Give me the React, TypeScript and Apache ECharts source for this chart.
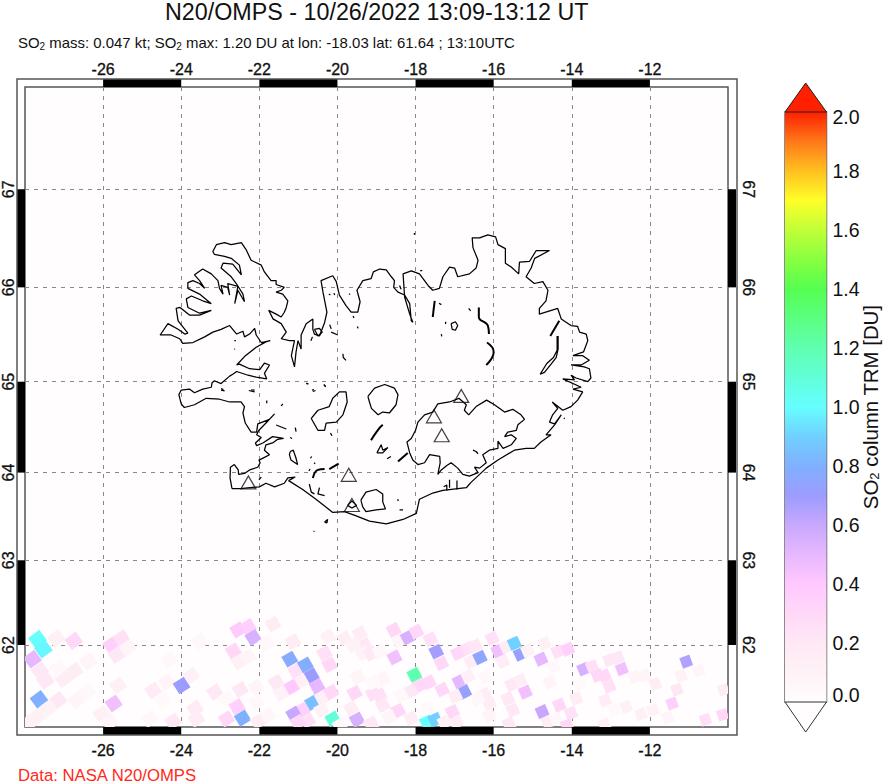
import React, { useEffect, useRef } from "react";
import * as echarts from "echarts";

const FONT = "'Liberation Sans', Arial, sans-serif";
const titleText = "N20/OMPS - 10/26/2022 13:09-13:12 UT";
const subtitleText = "SO{s|2} mass: 0.047 kt; SO{s|2} max: 1.20 DU at lon: -18.03 lat: 61.64 ; 13:10UTC";
const footerText = "Data: NASA N20/OMPS";
const colorbarName = "SO{s|2} column TRM [DU]";

const lonTicks = [-26, -24, -22, -20, -18, -16, -14, -12];
const latTicks = [62, 63, 64, 65, 66, 67];
const lonBands = [[-26, -24], [-22, -20], [-18, -16], [-14, -12]];
const latBands = [[66, 67], [64, 65], [62, 63]];

const colorStops: [number, string][] = [
  [0, "#fffdfd"], [0.1, "#fff2f6"], [0.2, "#ffe8f6"], [0.3, "#ffd8f8"], [0.4, "#ffc8ff"],
  [0.5, "#e6b8ff"], [0.6, "#c8a8ff"], [0.7, "#9c9cff"], [0.8, "#80b0ff"], [0.9, "#70d0ff"],
  [1.0, "#66ffff"], [1.1, "#60ffd8"], [1.2, "#60ffb0"], [1.4, "#55ff50"], [1.5, "#88ff40"],
  [1.6, "#c0ff38"], [1.7, "#ffff28"], [1.8, "#ffc020"], [1.9, "#ff7818"], [2.0, "#ff2000"],
];

// [lon, lat, SO2 DU]
const so2Cells = [
  [-27.68,62.07,1.0],[-27.53,61.95,0.98],[-27.81,61.83,.5],[-27.20,62.08,.12],[-26.75,62.05,.3],[-27.62,61.69,.2],[-27.48,61.57,.2],[-27.02,61.59,.15],[-26.73,61.69,.15],[-27.15,61.72,.05],[-26.38,61.80,.08],[-27.64,61.34,.8],[-27.15,61.33,.2],[-26.68,61.33,.08],[-26.41,61.43,.05],[-27.41,61.23,.1],[-27.71,61.12,.12],[-27.88,61.06,.1],
  [-25.79,62.00,.35],[-25.53,62.08,.25],[-25.66,61.88,.2],[-25.36,61.97,.08],[-25.62,61.51,.12],[-25.73,61.29,.45],[-26.04,61.16,.12],[-25.83,61.06,.08],[-24.72,61.45,.17],[-24.38,61.55,.07],[-24.30,61.82,.05],[-23.53,62.04,.05],[-23.74,61.63,.12],[-23.99,61.51,.7],[-23.14,61.43,.2],[-23.65,61.23,.17],[-23.61,61.10,.15],[-24.21,61.07,.2],[-24.81,61.10,.06],[-24.47,61.33,.04],[-22.84,61.35,.04],[-22.49,61.46,.2],[-22.08,61.49,.07],
  [-22.55,62.18,.38],[-22.29,62.22,.35],[-22.16,62.09,.55],[-22.67,61.93,.3],[-22.52,61.80,.12],[-22.29,61.86,.07],[-21.65,62.25,.15],[-21.14,62.04,.15],[-21.82,62.02,.05],[-22.84,61.10,.3],[-22.57,61.25,.35],[-22.43,61.11,.8],[-22.03,61.07,.15],[-21.78,61.14,.06],[-22.08,61.31,.05],
  [-21.22,61.83,.78],[-21.07,61.69,.25],[-20.82,61.76,.78],[-20.67,61.63,.7],[-20.52,61.50,.5],[-20.93,61.56,.12],[-21.18,61.49,.4],[-21.57,61.55,.2],[-21.44,61.41,.1],[-20.64,61.30,.85],[-20.90,61.21,.35],[-21.12,61.16,.6],[-20.76,61.08,.25],[-21.01,61.06,.3],[-20.39,61.36,.12],[-20.16,61.43,.3],[-20.12,61.10,1.1],[-20.41,61.21,.1],[-20.24,62.10,.1],[-20.33,61.90,.25],[-20.20,61.76,.3],
  [-19.82,62.08,.15],[-19.43,62.14,.15],[-19.30,62.00,.2],[-19.60,62.00,.1],[-19.35,61.90,.1],[-19.48,61.61,.08],[-19.56,61.42,.3],[-19.09,61.41,.25],[-19.65,61.23,.15],[-19.50,61.09,.55],[-19.13,61.04,.12],[-19.94,61.02,.05],
  [-19.14,61.90,.2],[-18.92,61.92,.05],[-18.56,62.18,.3],[-18.43,62.05,.08],[-18.20,62.09,.55],[-17.98,62.16,.3],[-17.62,62.07,.25],[-17.47,61.92,.68],[-17.34,61.78,.3],[-18.54,61.85,.45],[-16.92,61.90,.3],[-16.66,61.96,.25],[-16.47,61.99,.2],[-16.58,61.80,.15],[-16.35,61.85,.75],[-16.04,62.08,.25],[-15.89,61.93,.45],[-15.68,61.98,.15],[-15.77,61.80,.15],[-15.47,62.02,.9],[-15.32,61.89,.72],[-15.13,61.93,.1],[-14.70,62.02,.12],[-14.79,61.83,.5],[-14.36,61.92,.25],[-14.10,61.95,.35],[-14.46,61.74,.05],
  [-18.03,61.64,1.2],[-17.90,61.51,.3],[-17.66,61.55,.3],[-18.13,61.44,.2],[-17.32,61.46,.3],[-16.88,61.56,.5],[-16.66,61.62,.12],[-16.75,61.43,.72],[-16.98,61.38,.15],[-15.54,61.52,.2],[-15.32,61.57,.15],[-15.19,61.43,.45],[-15.64,61.35,.2],[-15.51,61.21,.2],[-16.24,61.40,.15],[-16.11,61.29,.15],[-16.41,61.35,.05],[-16.11,61.14,.08],[-16.21,61.61,.05],
  [-18.92,61.39,.25],[-18.84,61.27,.2],[-18.45,61.20,.3],[-18.67,61.12,.08],[-18.11,61.11,.15],[-18.84,61.59,.07],[-19.09,61.55,.04],[-19.14,61.04,.2],[-18.37,61.39,.05],[-17.71,61.06,1.0],[-17.50,61.09,.9],[-17.69,61.23,.04],[-17.06,61.19,.3],[-16.96,61.06,.15],[-17.26,61.06,.1],[-15.61,61.04,.2],[-14.76,61.19,.6],[-14.32,61.27,.3],[-14.02,61.17,.25],[-14.61,61.06,.15],[-14.40,61.10,.05],[-14.12,61.02,.3],[-14.57,61.55,.08],
  [-13.89,61.35,.15],[-13.80,61.53,.04],[-13.70,61.71,.55],[-13.48,61.74,.25],[-13.34,61.63,.3],[-13.16,61.63,.3],[-13.04,61.50,.25],[-13.04,61.82,.2],[-12.82,61.85,.2],[-12.72,61.71,.45],[-13.15,61.33,.15],[-12.61,61.25,.12],[-13.16,61.03,.12],[-12.91,61.21,.04],[-12.40,61.61,.07],[-12.14,61.63,.07],[-11.86,61.53,.15],[-12.23,61.16,.12],[-11.93,61.21,.1],[-11.54,61.12,.07],[-11.43,61.29,.35],[-11.31,61.46,.2],[-11.20,61.63,.1],[-11.07,61.80,.65],[-10.75,61.69,.08],[-10.58,61.09,.25],[-10.14,61.15,.3],[-10.12,61.46,.15],
];

const volcanoes = [[-22.28,63.89],[-19.71,63.975],[-19.63,63.635],[-17.53,64.623],[-17.33,64.415],[-16.83,64.846]];

const coast = [
  [-22.70,63.82],[-22.75,63.94],[-22.74,64.06],[-22.64,64.09],[-22.54,64.03],[-22.53,63.98],[-22.38,63.99],[-22.25,64.03],[-22.04,64.06],[-21.98,64.11],[-22.01,64.14],[-21.87,64.17],[-21.74,64.20],[-21.87,64.25],[-21.83,64.31],[-21.66,64.33],[-21.53,64.37],[-21.38,64.38],[-21.66,64.40],[-21.91,64.33],[-22.07,64.30],[-22.10,64.33],[-21.95,64.39],[-22.07,64.42],[-22.01,64.47],[-21.83,64.55],[-21.61,64.65],[-21.74,64.59],[-22.04,64.54],[-22.07,64.45],[-22.21,64.45],[-22.36,64.55],[-22.42,64.66],[-22.38,64.73],[-22.47,64.78],[-22.76,64.78],[-23.02,64.81],[-23.36,64.82],[-23.66,64.75],[-23.92,64.72],[-24.00,64.76],[-24.06,64.86],[-24.00,64.91],[-23.79,64.92],[-23.66,64.88],[-23.45,64.92],[-23.23,64.94],[-23.21,64.99],[-23.15,65.01],[-22.98,64.98],[-22.76,65.06],[-22.68,65.08],[-22.58,65.11],[-22.29,65.07],[-22.08,65.05],[-21.81,65.03],[-21.87,65.09],[-21.74,65.18],[-21.87,65.20],[-21.99,65.13],[-22.25,65.14],[-22.51,65.19],[-22.58,65.18],[-22.38,65.27],[-22.08,65.37],[-21.82,65.43],[-21.72,65.44],[-21.95,65.42],[-22.08,65.50],[-22.12,65.57],[-22.25,65.51],[-22.38,65.48],[-22.42,65.54],[-22.58,65.51],[-22.76,65.60],[-22.98,65.56],[-23.19,65.53],[-23.40,65.48],[-23.70,65.42],[-23.96,65.41],[-24.04,65.46],[-24.26,65.50],[-24.54,65.50],[-24.34,65.62],[-24.08,65.56],[-23.91,65.51],[-23.83,65.52],[-24.08,65.65],[-24.13,65.78],[-24.03,65.79],[-23.79,65.71],[-23.53,65.71],[-23.23,65.76],[-23.53,65.73],[-23.83,65.79],[-23.87,65.88],[-23.74,65.91],[-23.45,65.86],[-23.23,65.83],[-23.53,65.93],[-23.83,65.99],[-23.83,66.05],[-23.70,66.07],[-23.53,66.04],[-23.40,65.99],[-23.53,66.07],[-23.66,66.13],[-23.45,66.19],[-23.23,66.14],[-23.06,66.07],[-23.02,65.99],[-22.93,65.93],[-22.98,66.02],[-22.81,66.00],[-22.76,65.92],[-22.81,66.04],[-22.55,66.01],[-22.63,65.83],[-22.55,65.97],[-22.38,65.85],[-22.42,65.93],[-22.59,66.04],[-22.72,66.11],[-22.98,66.20],[-22.93,66.25],[-22.68,66.24],[-22.46,66.13],[-22.51,66.23],[-22.72,66.30],[-22.89,66.32],[-23.15,66.34],[-23.19,66.37],[-23.10,66.44],[-22.89,66.46],[-22.72,66.44],[-22.46,66.46],[-22.34,66.39],[-22.21,66.28],[-21.95,66.23],[-21.87,66.16],[-21.70,66.07],[-21.57,66.07],[-21.57,66.03],[-21.36,66.00],[-21.44,65.97],[-21.57,65.95],[-21.40,65.93],[-21.27,65.86],[-21.31,65.79],[-21.36,65.74],[-21.44,65.69],[-21.57,65.72],[-21.76,65.76],[-21.65,65.67],[-21.44,65.62],[-21.31,65.53],[-21.44,65.46],[-21.23,65.44],[-21.10,65.44],[-21.18,65.28],[-21.10,65.16],[-21.06,65.32],[-21.01,65.44],[-20.93,65.35],[-20.93,65.50],[-20.80,65.62],[-20.63,65.67],[-20.63,65.56],[-20.59,65.51],[-20.46,65.49],[-20.33,65.63],[-20.27,65.74],[-20.37,65.95],[-20.42,66.07],[-20.12,66.12],[-20.03,66.06],[-19.95,65.92],[-19.78,65.81],[-19.65,65.74],[-19.48,65.74],[-19.42,65.85],[-19.50,65.97],[-19.35,66.07],[-19.14,66.09],[-19.08,66.16],[-18.92,66.19],
  [-18.75,66.18],[-18.62,66.11],[-18.54,66.07],[-18.56,66.00],[-18.45,65.95],[-18.28,65.92],[-18.15,65.83],[-18.11,65.65],[-18.07,65.635],[-18.15,65.72],[-18.28,65.90],[-18.32,66.14],[-18.11,66.17],[-17.90,66.14],[-17.68,66.02],[-17.56,65.97],[-17.39,65.99],[-17.30,66.11],[-17.13,66.21],[-17.00,66.20],[-16.92,66.11],[-16.62,66.14],[-16.45,66.20],[-16.40,66.28],[-16.53,66.41],[-16.55,66.51],[-16.36,66.51],[-16.15,66.54],[-15.95,66.52],[-15.89,66.44],[-15.70,66.40],[-15.70,66.25],[-15.55,66.21],[-15.36,66.14],[-15.34,66.26],[-15.08,66.27],[-14.91,66.38],[-14.57,66.38],[-14.95,66.30],[-15.04,66.20],[-15.17,66.11],[-14.96,66.04],[-14.74,66.06],[-14.61,65.97],[-14.66,65.86],[-14.83,65.78],[-14.83,65.72],[-14.36,65.78],[-14.27,65.67],
  [-14.02,65.60],[-13.85,65.59],[-13.80,65.53],[-13.63,65.51],[-13.59,65.44],[-13.70,65.32],[-13.97,65.28],[-13.72,65.28],[-13.55,65.23],[-13.76,65.18],[-14.02,65.18],[-13.68,65.16],[-13.55,65.14],[-13.51,65.04],[-13.59,65.00],[-13.89,65.04],[-14.02,65.07],[-13.93,65.02],[-14.23,65.03],[-13.76,64.94],[-13.97,64.92],[-13.72,64.89],[-13.85,64.80],[-14.02,64.73],[-14.23,64.69],[-14.50,64.78],[-14.36,64.71],[-14.49,64.64],[-14.57,64.56],[-14.44,64.54],[-14.27,64.64],[-14.44,64.53],[-14.66,64.42],[-14.53,64.42],[-14.79,64.34],[-14.96,64.27],
  [-15.17,64.27],[-15.47,64.25],[-15.89,64.14],[-16.19,64.05],[-16.36,63.98],[-16.58,63.89],[-16.70,63.83],[-17.30,63.80],[-17.56,63.77],[-17.90,63.70],[-17.98,63.54],[-18.32,63.47],[-18.75,63.42],[-19.18,63.45],[-19.52,63.51],[-19.82,63.56],[-20.12,63.55],[-20.55,63.70],[-20.89,63.81],[-21.25,63.91],[-21.08,63.95],[-21.27,63.94],[-21.36,63.88],[-21.61,63.84],[-21.83,63.88],[-22.00,63.84],[-22.25,63.83],[-22.47,63.82],[-22.70,63.82],
];

const vatnajokull = [[-18.00,64.47],[-17.94,64.56],[-17.77,64.64],[-17.56,64.67],[-17.43,64.76],[-17.13,64.78],[-16.89,64.82],[-16.70,64.75],[-16.75,64.69],[-16.64,64.64],[-16.45,64.73],[-16.18,64.80],[-15.98,64.75],[-15.72,64.67],[-15.51,64.70],[-15.30,64.64],[-15.21,64.59],[-15.38,64.53],[-15.42,64.47],[-15.64,64.45],[-15.72,64.40],[-15.55,64.42],[-15.42,64.38],[-15.55,64.31],[-15.76,64.27],[-15.89,64.35],[-15.89,64.27],[-16.11,64.25],[-16.28,64.20],[-16.19,64.11],[-16.36,64.05],[-16.49,64.06],[-16.40,64.00],[-16.62,63.96],[-16.79,63.98],[-16.92,64.05],[-17.09,64.11],[-17.20,64.08],[-17.34,64.03],[-17.43,63.98],[-17.37,64.11],[-17.38,64.18],[-17.64,64.20],[-17.77,64.11],[-17.94,64.09],[-18.07,64.14],[-18.15,64.22],[-18.22,64.34],[-18.11,64.38],[-18.00,64.47]];
const langjokull = [[-20.50,64.69],[-20.21,64.73],[-20.12,64.82],[-19.95,64.89],[-19.78,64.89],[-19.75,64.78],[-19.86,64.64],[-20.03,64.56],[-20.29,64.55],[-20.33,64.47],[-20.50,64.47],[-20.67,64.60],[-20.50,64.69]];
const hofsjokull = [[-19.22,64.84],[-19.05,64.93],[-18.79,64.97],[-18.54,64.93],[-18.45,64.86],[-18.50,64.75],[-18.67,64.66],[-18.84,64.67],[-18.96,64.64],[-19.13,64.71],[-19.18,64.78],[-19.22,64.84]];
const myrdalsjokull = [[-19.40,63.69],[-19.27,63.78],[-19.01,63.81],[-18.84,63.76],[-18.84,63.67],[-18.77,63.59],[-19.01,63.58],[-19.27,63.56],[-19.35,63.61],[-19.40,63.69]];
const eyjafjallajokull = [[-19.74,63.63],[-19.63,63.68],[-19.51,63.63],[-19.63,63.60],[-19.74,63.63]];
const lagarfljot = [[-14.375,65.49],[-14.375,65.336],[-14.47,65.26],[-14.64,65.196],[-14.81,65.08],[-14.70,65.10],[-14.53,65.19],[-14.40,65.26],[-14.35,65.35],[-14.35,65.49]];
const myvatn = [[-17.09,65.62],[-16.98,65.64],[-16.92,65.60],[-16.98,65.55],[-17.06,65.56],[-17.09,65.62]];
const hopLagoon = [[-20.59,65.56],[-20.46,65.57],[-20.39,65.53],[-20.50,65.49],[-20.59,65.56]];
const thingvallavatn = [[-21.21,64.235],[-21.13,64.25],[-21.06,64.16],[-21.02,64.09],[-21.19,64.14],[-21.23,64.20],[-21.21,64.235]];
const thorisvatn = [[-18.99,64.22],[-18.88,64.31],[-18.84,64.25],[-18.71,64.28],[-18.84,64.22],[-18.99,64.22]];

const thinFeatures = [
  vatnajokull, langjokull, hofsjokull, myrdalsjokull, eyjafjallajokull, lagarfljot, myvatn, hopLagoon, thingvallavatn, thorisvatn,
  [[-17.40,65.835],[-17.34,65.82]],[[-16.64,65.78],[-16.59,65.755]],[[-17.23,65.64],[-17.23,65.615]],[[-17.34,65.51],[-17.33,65.485]],[[-18.03,66.56],[-18.03,66.54]],[[-17.88,66.17],[-17.83,66.175]],[[-18.41,66.02],[-18.37,65.98]],
  [[-20.22,65.93],[-20.18,65.92]],[[-20.09,65.94],[-20.07,65.92]],[[-19.70,65.935],[-19.68,65.925]],[[-19.60,65.70],[-19.58,65.68]],[[-19.49,65.59],[-19.47,65.57]],[[-20.20,65.61],[-20.16,65.565]],[[-20.16,65.53],[-19.99,65.50]],[[-20.68,65.44],[-20.64,65.48]],[[-19.86,65.30],[-19.85,65.26],[-19.78,65.23]],[[-22.64,65.44],[-22.60,65.44]],[[-22.64,65.35],[-22.62,65.35]],[[-20.78,64.98],[-20.74,64.975]],[[-20.65,64.91],[-20.60,64.915]],[[-20.35,64.97],[-20.31,64.95]],[[-22.21,64.91],[-22.12,64.91]],[[-22.98,64.925],[-22.92,64.915]],
  [[-22.98,64.91],[-22.89,64.90]],[[-22.27,64.905],[-22.12,64.89]],[[-21.81,64.795],[-21.81,64.766]],[[-21.44,64.737],[-21.40,64.76]],[[-20.80,64.985],[-20.76,64.975]],[[-20.34,64.965],[-20.30,64.945]],[[-20.63,64.894],[-20.56,64.905]],[[-21.57,64.528],[-21.31,64.484]],[[-21.08,64.50],[-21.06,64.455]],[[-21.21,64.39],[-21.16,64.38]],[[-20.18,64.44],[-20.14,64.41]],
  [[-20.69,64.16],[-20.66,64.18]],[[-20.60,64.11],[-20.57,64.10]],[[-20.73,64.02],[-20.70,64.04]],[[-22.01,63.92],[-21.95,63.95]],[[-20.72,63.87],[-20.67,63.78],[-20.59,63.76]],[[-20.46,63.83],[-20.50,63.76],[-20.33,63.74]],[[-20.33,63.44],[-20.25,63.47],[-20.27,63.43],[-20.33,63.44]],[[-20.61,63.34],[-20.59,63.33]],
  [[-18.73,64.155],[-18.63,64.18]],[[-18.46,63.70],[-18.44,63.68]],[[-16.53,64.25],[-16.45,64.235],[-16.40,64.21]],[[-14.20,64.605],[-14.18,64.595]],[[-18.32,63.58],[-18.41,63.58]],[[-17.13,63.92],[-17.13,63.83]],[[-16.94,63.91],[-16.94,63.81]],[[-17.28,63.84],[-17.20,63.86],[-17.20,63.80]],
];

const thickFeatures = [
  [[-14.32,65.65],[-14.55,65.49]],
  [[-16.38,65.79],[-16.38,65.69],[-16.15,65.60],[-16.12,65.51]],
  [[-16.17,65.42],[-16.00,65.32],[-16.19,65.18]],
  [[-17.56,65.69],[-17.51,65.86]],
  [[-20.63,63.94],[-20.50,64.03],[-20.33,64.04]],
  [[-20.21,64.04],[-19.97,64.10]],
  [[-19.14,64.36],[-18.97,64.47],[-18.84,64.53]],
  [[-18.45,64.125],[-18.20,64.22]],
];

const mercator = (lat: number) => (180 / Math.PI) * Math.log(Math.tan(Math.PI / 4 + (lat * Math.PI) / 360));
const inverseMercator = (m: number) => ((2 * Math.atan(Math.exp((m * Math.PI) / 180)) - Math.PI / 2) * 180) / Math.PI;
const project = (pts: number[][]) => pts.map(([lon, lat]) => [lon, mercator(lat)]);

const hex = (c: string) => [1, 3, 5].map((i) => parseInt(c.slice(i, i + 2), 16));
function colorAt(v: number) {
  for (let i = 1; i < colorStops.length; i++) {
    if (v <= colorStops[i][0]) {
      const [v0, c0] = colorStops[i - 1];
      const [v1, c1] = colorStops[i];
      const t = (v - v0) / (v1 - v0);
      const a = hex(c0), b = hex(c1);
      return `rgb(${a.map((x, k) => Math.round(x + (b[k] - x) * t)).join(",")})`;
    }
  }
  return colorStops[colorStops.length - 1][1];
}

const LEFT = 25, TOP = 87, WIDTH = 703, HEIGHT = 640, BAND = 8;
const FRAME = "#555";
const tickFont = { color: "#111", fontFamily: FONT, fontSize: 16, textBorderColor: "#111", textBorderWidth: 0.3 };

export default function App() {
  const ref = useRef<HTMLDivElement>(null);
  useEffect(() => {
    document.body.style.margin = "0";
    const chart = echarts.init(ref.current!, null, { renderer: "svg" });
    const latValues = latTicks.map(mercator);
    const latFormatter = (v: number) => String(Math.round(inverseMercator(v)));
    const dash = { show: true, lineStyle: { color: "#888", type: [4, 5] as any, width: 1 } };
    const lineSeries = (pts: number[][], width: number, smooth = 0) => ({
      type: "line", xAxisIndex: 0, yAxisIndex: 0, data: project(pts), showSymbol: false, symbol: "none", smooth,
      lineStyle: { color: "#000", width }, silent: true, z: 3, animation: false,
    });
    chart.setOption({
      animation: false,
      backgroundColor: "#fff",
      title: [
        { text: titleText, left: 165, top: 0, padding: 0, textStyle: { fontFamily: FONT, fontSize: 23.3, fontWeight: "normal", color: "#111" } },
        { text: subtitleText, left: 18, top: 33, padding: 0, textStyle: { fontFamily: FONT, fontSize: 14.95, fontWeight: "normal", color: "#111", rich: { s: { fontFamily: FONT, fontSize: 10, verticalAlign: "bottom", padding: [8, 0, 0, 0], color: "#111" } } } },
        { text: footerText, left: 18, top: 767, padding: 0, textStyle: { fontFamily: FONT, fontSize: 16.7, fontWeight: "normal", color: "#ff2a1a" } },
      ],
      grid: [
        { left: LEFT, top: TOP, width: WIDTH, height: HEIGHT, show: true, backgroundColor: "#fffdfe", borderColor: FRAME, borderWidth: 1.5, containLabel: false, outerBoundsMode: "none" },
        { left: 785, top: 112, width: 41.5, height: 590, show: true, backgroundColor: "transparent", borderColor: "#666", borderWidth: 1.5, outerBoundsMode: "none" },
      ],
      xAxis: [
        { type: "value", min: -28, max: -10, position: "bottom", axisLine: { show: false }, axisTick: { show: false, customValues: lonTicks }, splitLine: dash, axisLabel: { customValues: lonTicks, margin: 15, ...tickFont } },
        { type: "value", min: -28, max: -10, position: "top", axisLine: { show: false }, axisTick: { show: false, customValues: lonTicks }, splitLine: { show: false }, axisLabel: { customValues: lonTicks, margin: 10, ...tickFont } },
        { type: "category", gridIndex: 1, data: ["SO2"], show: false },
      ],
      yAxis: [
        { type: "value", min: mercator(61), max: mercator(68), position: "left", axisLine: { show: false }, axisTick: { show: false, customValues: latValues }, splitLine: dash, axisLabel: { customValues: latValues, formatter: latFormatter, rotate: 90, margin: 10, lineHeight: 14, ...tickFont } },
        { type: "value", min: mercator(61), max: mercator(68), position: "right", axisLine: { show: false }, axisTick: { show: false, customValues: latValues }, splitLine: { show: false }, axisLabel: { customValues: latValues, formatter: latFormatter, rotate: -90, margin: 12, ...tickFont } },
        {
          type: "value", gridIndex: 1, min: 0, max: 2, interval: 0.2, position: "right",
          axisLine: { show: false }, splitLine: { show: false },
          axisTick: { show: true, inside: true, length: 10, lineStyle: { color: "#222", width: 1 } },
          minorTick: { show: true, splitNumber: 2, length: 5, lineStyle: { color: "#333", width: 1 } },
          axisLabel: {
            margin: 6, color: "#111", fontFamily: FONT, fontSize: 19.5,
            formatter: (v: number) => (v === 2 ? `{a|${v.toFixed(1)}}` : v === 0 ? `{b|${v.toFixed(1)}}` : v.toFixed(1)),
            verticalAlignMaxLabel: "top", verticalAlignMinLabel: "bottom",
            rich: {
              a: { color: "#111", fontFamily: FONT, fontSize: 19.5, lineHeight: 10 },
              b: { color: "#111", fontFamily: FONT, fontSize: 19.5, lineHeight: 14 },
            },
          },
          name: colorbarName, nameLocation: "middle", nameRotate: 90, nameGap: 34, nameMoveOverlap: false,
          nameTextStyle: { color: "#111", fontFamily: FONT, fontSize: 20.4, lineHeight: 20, rich: { s: { fontFamily: FONT, fontSize: 13, lineHeight: 20, verticalAlign: "bottom", padding: [3, 0, 0, 0], color: "#111" } } },
        },
      ],
      graphic: [
        { type: "rect", silent: true, z: 10, shape: { x: LEFT - BAND, y: TOP - BAND, width: WIDTH + 2 * BAND + 1, height: HEIGHT + 2 * BAND }, style: { fill: "none", stroke: FRAME, lineWidth: 1.5 } },
        { type: "polygon", silent: true, z: 10, shape: { points: [[785, 112], [826.5, 112], [805.7, 83]] }, style: { fill: "#ff2000", stroke: "#222", lineWidth: 1 } },
        { type: "polygon", silent: true, z: 10, shape: { points: [[785, 702], [826.5, 702], [805.7, 732]] }, style: { fill: "#fffdfd", stroke: "#333", lineWidth: 1 } },
      ],
      series: [
        {
          type: "custom", xAxisIndex: 0, yAxisIndex: 0, clip: true, silent: true, z: 1,
          data: so2Cells.map(([lon, lat, v]) => [lon, mercator(lat), v]),
          encode: { x: 0, y: 1 },
          renderItem: (_: any, api: any) => {
            const lon = api.value(0);
            const [cx, cy] = api.coord([lon, api.value(1)]);
            const t = lon + 28;
            const angle = ((37 - t) * Math.PI) / 180;
            const su = 14 - t * 0.2, sv = 13 - t * 0.11;
            const ux = (su / 2) * Math.cos(angle), uy = -(su / 2) * Math.sin(angle);
            const vx = (sv / 2) * Math.sin(angle), vy = (sv / 2) * Math.cos(angle);
            return {
              type: "polygon",
              shape: { points: [[cx - ux - vx, cy - uy - vy], [cx + ux - vx, cy + uy - vy], [cx + ux + vx, cy + uy + vy], [cx - ux + vx, cy - uy + vy]] },
              style: { fill: colorAt(api.value(2)), stroke: null },
            };
          },
        },
        lineSeries(coast, 1.25),
        ...thinFeatures.map((p) => lineSeries(p, 1.25)),
        ...thickFeatures.map((p) => lineSeries(p, 2, 0.5)),
        {
          type: "scatter", xAxisIndex: 0, yAxisIndex: 0, silent: true, z: 4, symbol: "triangle", symbolSize: [15, 13],
          data: project(volcanoes),
          itemStyle: { color: "rgba(255,255,255,0)", borderColor: "#111", borderWidth: 1.2 },
        },
        {
          type: "custom", xAxisIndex: 0, yAxisIndex: 0, clip: false, silent: true, z: 5,
          data: [
            ...lonBands.flatMap(([a, b]) => [[a, mercator(68), b, mercator(68), 0, -BAND], [a, mercator(61), b, mercator(61), 0, BAND]]),
            ...latBands.flatMap(([a, b]) => [[-28, mercator(a), -28, mercator(b), -BAND, 0], [-10, mercator(a), -10, mercator(b), BAND, 0]]),
          ],
          renderItem: (_: any, api: any) => {
            const p = api.coord([api.value(0), api.value(1)]);
            const q = api.coord([api.value(2), api.value(3)]);
            const dx = api.value(4), dy = api.value(5);
            const x0 = Math.min(p[0], q[0], p[0] + dx), x1 = Math.max(p[0], q[0], p[0] + dx);
            const y0 = Math.min(p[1], q[1], p[1] + dy), y1 = Math.max(p[1], q[1], p[1] + dy);
            return { type: "rect", shape: { x: x0, y: y0, width: x1 - x0, height: y1 - y0 }, style: { fill: "#000", stroke: null } };
          },
        },
        {
          type: "bar", xAxisIndex: 2, yAxisIndex: 2, data: [2], barWidth: "100%", silent: true,
          itemStyle: { color: new echarts.graphic.LinearGradient(0, 1, 0, 0, colorStops.map(([v, c]) => ({ offset: v / 2, color: c }))) },
        },
      ],
    });
    return () => chart.dispose();
  }, []);
  return <div ref={ref} style={{ position: "fixed", left: 0, top: 0, width: 883, height: 783 }} />;
}
